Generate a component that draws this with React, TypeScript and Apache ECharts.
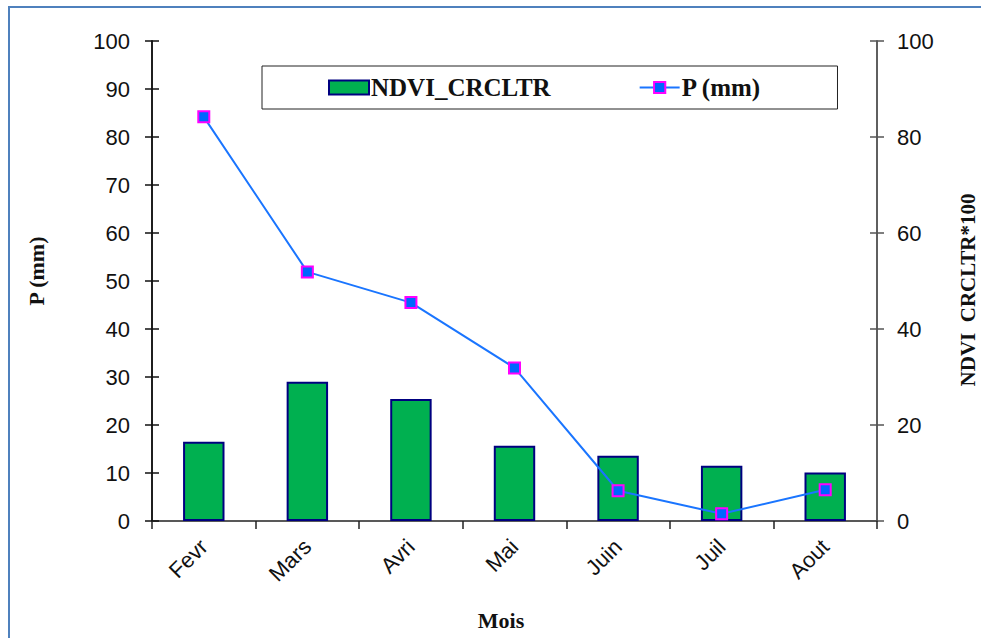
import React, { useEffect, useRef } from "react";
import * as echarts from "echarts";

const months = ["Fevr", "Mars", "Avri", "Mai", "Juin", "Juil", "Aout"];
const ndvi = [16.5, 29, 25.4, 15.7, 13.6, 11.5, 10.1];
const precip = [84.2, 51.9, 45.5, 31.9, 6.3, 1.5, 6.5];
const leftTitle = "P (mm)";
const rightTitle = "NDVI  CRCLTR*100";
const xTitle = "Mois";

const serif = "'Liberation Serif', 'Times New Roman', serif";
const sans = "'Liberation Sans', Arial, sans-serif";

export default function App() {
  const ref = useRef<HTMLDivElement>(null);
  useEffect(() => {
    if (!ref.current) return;
    const chart = echarts.init(ref.current, undefined, { renderer: "svg" });
    const yBase = (pos: "left" | "right", interval: number, inside: boolean, show: boolean, color: string) => ({
      type: "value",
      position: pos,
      min: 0,
      max: 100,
      interval,
      axisLine: { show: true, lineStyle: { color, width: 1.5 } },
      axisTick: { show: true, inside, length: 7, lineStyle: { color, width: 1.5 } },
      axisLabel: {
        show,
        fontFamily: sans,
        fontSize: 22,
        color: "#111",
        margin: pos === "left" ? 22 : 20,
      },
      splitLine: { show: false },
    });
    chart.setOption({
      animation: false,
      grid: { left: 152, right: 104, top: 41, bottom: 117 },
      legend: {
        left: 262,
        top: 66,
        padding: [9, 76, 9, 66],
        borderColor: "#222",
        borderWidth: 1,
        itemGap: 88,
        itemWidth: 40,
        itemHeight: 14,
        textStyle: { fontFamily: serif, fontWeight: "bold", fontSize: 25, color: "#111", padding: [0, 0, 0, -3] },
        data: [
          { name: "NDVI_CRCLTR", icon: "rect" },
          { name: "P (mm)" },
        ],
      },
      xAxis: {
        type: "category",
        data: months,
        axisLine: { lineStyle: { color: "#222", width: 1.5 } },
        axisTick: { show: true, alignWithLabel: false, length: 8, lineStyle: { color: "#222", width: 1.5 } },
        axisLabel: { rotate: 45, fontFamily: sans, fontSize: 22, color: "#111", margin: 22 },
      },
      yAxis: [
        yBase("left", 10, false, true, "#111"),
        yBase("right", 20, false, true, "#555"),
        yBase("left", 10, true, false, "#111"),
        yBase("right", 20, true, false, "#555"),
      ],
      series: [
        {
          name: "NDVI_CRCLTR",
          type: "bar",
          yAxisIndex: 1,
          data: ndvi,
          barWidth: "40%",
          itemStyle: { color: "#00b050", borderColor: "#000080", borderWidth: 2 },
        },
        {
          name: "P (mm)",
          type: "line",
          yAxisIndex: 0,
          data: precip,
          symbol: "rect",
          symbolSize: 11,
          lineStyle: { color: "#1a75ff", width: 2 },
          itemStyle: { color: "#0066ff", borderColor: "#ff00ff", borderWidth: 2 },
        },
      ],
      graphic: [
        {
          type: "polyline",
          shape: { points: [[9, 700], [9, 7], [981, 7]] },
          style: { fill: "none", stroke: "#4f81bd", lineWidth: 2 },
          silent: true,
        },
        {
          type: "text",
          x: 501,
          y: 620,
          style: { text: xTitle, font: `bold 22px ${serif}`, fill: "#111", align: "center", verticalAlign: "middle" },
        },
        {
          type: "text",
          x: 36,
          y: 271,
          rotation: Math.PI / 2,
          style: { text: leftTitle, font: `bold 22px ${serif}`, fill: "#111", align: "center", verticalAlign: "middle" },
        },
        {
          type: "text",
          x: 968,
          y: 290,
          rotation: Math.PI / 2,
          style: { text: rightTitle, font: `bold 21px ${serif}`, fill: "#111", align: "center", verticalAlign: "middle" },
        },
      ],
    });
    return () => chart.dispose();
  }, []);
  return <div ref={ref} style={{ position: "fixed", left: 0, top: 0, width: 981, height: 638, background: "#fff" }} />;
}
